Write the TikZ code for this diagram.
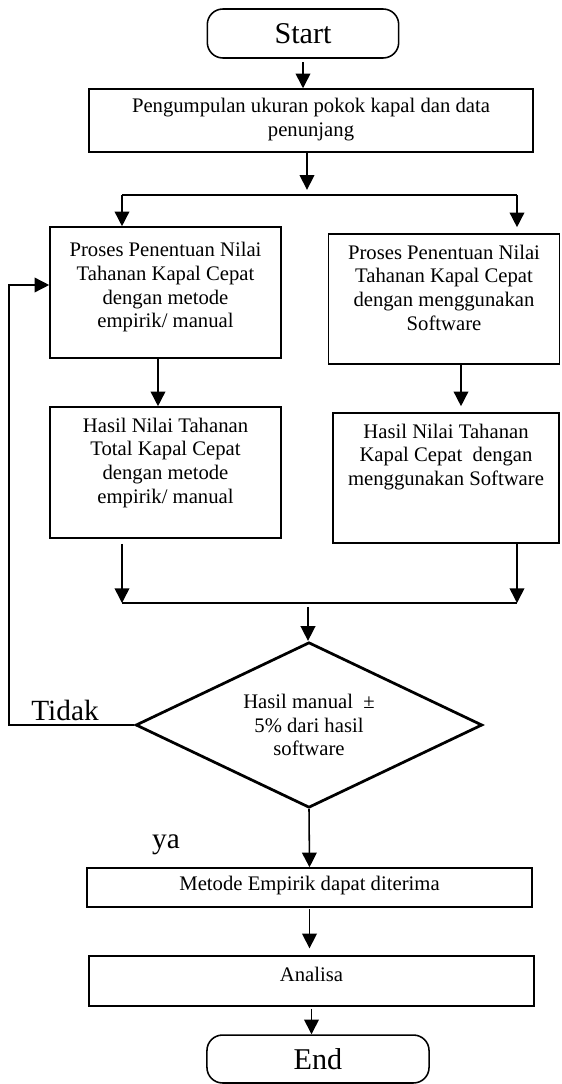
\documentclass[tikz,border=0pt]{standalone}
\usepackage{fontspec}
\setmainfont{Liberation Serif}
\usetikzlibrary{shapes.geometric,arrows.meta}

\begin{document}
\begin{tikzpicture}[x=0.58pt, y=-0.58pt,
    box/.style={draw, line width=0.9pt, inner sep=0pt},
    boxtext/.style={anchor=north, align=center, inner sep=0pt, yshift=-6.5pt,
      font=\fontsize{12}{13.8}\selectfont},
    term/.style={draw, rounded corners=9pt, line width=0.9pt,
      font=\fontsize{17.5}{20}\selectfont},
    decision/.style={draw, diamond, aspect=2, line width=1.6pt, inner sep=0pt,
      align=center, font=\fontsize{12}{13.8}\selectfont},
    lbl/.style={inner sep=0pt, font=\fontsize{17}{20}\selectfont},
    arr/.style={-{Triangle[length=8.5pt,width=8.5pt]}, line width=0.9pt},
    bus/.style={line width=1.4pt}]
    \useasboundingbox (0,0) rectangle (562,1084);

    \node[term, minimum width=111pt, minimum height=28.4pt] (start) at (303,33.5) {Start};
    \node[box, minimum width=257.5pt, minimum height=36.5pt,
      label={[boxtext, yshift=1pt]north:{Pengumpulan ukuran pokok kapal dan data\\penunjang}}] (collect) at (311,120.5) {};
    \node[box, minimum width=134pt, minimum height=76pt,
      label={[boxtext, yshift=-2.5pt]north:{Proses Penentuan Nilai\\Tahanan Kapal Cepat\\dengan metode\\empirik/ manual}}] (procman) at (165.5,292.5) {};
    \node[box, minimum width=134pt, minimum height=75.4pt,
      label={[boxtext]north:{Proses Penentuan Nilai\\Tahanan Kapal Cepat\\dengan menggunakan\\Software}}] (procsoft) at (444,299) {};
    \node[box, minimum width=134pt, minimum height=76pt,
      label={[boxtext]north:{Hasil Nilai Tahanan\\Total Kapal Cepat\\dengan metode\\empirik/ manual}}] (resman) at (165.5,472.5) {};
    \node[box, minimum width=131pt, minimum height=75.4pt,
      label={[boxtext]north:{Hasil Nilai Tahanan\\Kapal Cepat\ \ dengan\\menggunakan Software}}] (ressoft) at (446,478) {};
    \node[decision, minimum width=201pt, minimum height=96pt] (check) at (309,725)
      {Hasil manual\ \ ±\\5\% dari hasil\\software};
    \node[box, minimum width=258pt, minimum height=22.6pt,
      label={[boxtext, yshift=1.5pt]north:{Metode Empirik dapat diterima}}] (accept) at (309.5,887.5) {};
    \node[box, minimum width=258pt, minimum height=29pt,
      label={[boxtext]north:{Analisa}}] (analisa) at (311.5,981) {};
    \node[term, minimum width=128.8pt, minimum height=27.8pt] (end) at (318,1059) {End};

    \node[lbl] (no) at (65,710) {Tidak};
    \node[lbl] (yes) at (166,845) {ya};

    \coordinate (fork) at (307,195);
    \coordinate (forkL) at (122,195);
    \coordinate (forkR) at (517,195);
    \coordinate (join) at (308,603);
    \coordinate (joinL) at (122,603);
    \coordinate (joinR) at (517,603);
    \coordinate (lm) at (158,0);
    \coordinate (rs) at (461,0);
    \coordinate (back) at (9,285);

    \draw[arr, shorten <=2pt] (start.south) -- (start.south |- collect.north);
    \draw[arr, shorten >=3pt] (collect.south -| fork) -- (fork);
    \draw[bus] (forkL) -- (forkR);
    \draw[arr] (forkL) -- (forkL |- procman.north);
    \draw[arr, shorten >=3.5pt] (forkR) -- (forkR |- procsoft.north);
    \draw[arr] (procman.south -| lm) -- (resman.north -| lm);
    \draw[arr, shorten >=3.5pt] (procsoft.south -| rs) -- (ressoft.north -| rs);
    \draw[arr, shorten <=3pt] (resman.south -| joinL) -- (joinL);
    \draw[arr] (ressoft.south -| joinR) -- (joinR);
    \draw[bus] (joinL) -- (joinR);
    \draw[arr, shorten <=2.3pt] (join) -- (join |- check.north);
    \draw[arr] (check.west) -| (back) -- (back -| procman.west);
    \draw[arr] (check.south) -- (accept.north);
    \draw[arr, shorten <=1pt, shorten >=4pt] (accept.south) -- (accept.south |- analisa.north);
    \draw[arr, shorten <=1pt] (analisa.south) -- (analisa.south |- end.north);
  \end{tikzpicture}
\end{document}
